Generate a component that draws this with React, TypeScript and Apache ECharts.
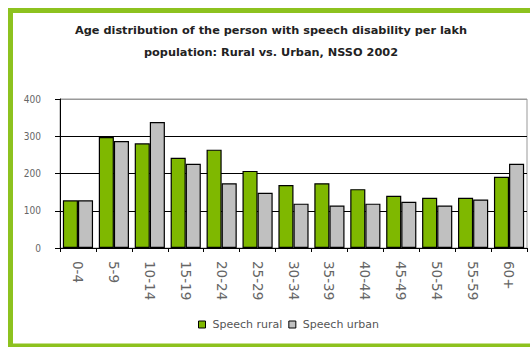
import React, { useEffect, useRef } from "react";
import * as echarts from "echarts";

// Age groups and prevalence per lakh population (NSSO 2002)
const ageGroups = ["0-4", "5-9", "10-14", "15-19", "20-24", "25-29", "30-34", "35-39", "40-44", "45-49", "50-54", "55-59", "60+"];
const speechRural = [128, 298, 281, 242, 264, 207, 169, 174, 158, 140, 135, 135, 191];
const speechUrban = [128, 287, 338, 226, 174, 148, 119, 114, 119, 124, 114, 130, 226];
const yTicks = [0, 100, 200, 300, 400];

const titleLines = [
  "Age distribution of the person with speech disability per lakh",
  "population: Rural vs. Urban, NSSO 2002",
];

const GREEN = "#7fb800";
const FRAME = "#8dc21f";
const GREY = "#c0c0c0";

export default function App() {
  const ref = useRef<HTMLDivElement>(null);

  useEffect(() => {
    if (!ref.current) return;
    const chart = echarts.init(ref.current, undefined, { renderer: "svg" });
    chart.setOption({
      animation: false,
      backgroundColor: "#ffffff",
      title: {
        text: titleLines.join("\n"),
        left: 271,
        top: 19,
        textAlign: "center",
        padding: 0,
        textStyle: {
          fontFamily: "'DejaVu Sans', sans-serif",
          fontSize: 11.3,
          fontWeight: "bold",
          color: "#222",
          lineHeight: 22,
        },
      },
      graphic: [
        {
          type: "rect",
          silent: true,
          shape: { x: 10.5, y: 10.5, width: 540, height: 335.5 },
          style: { fill: "none", stroke: FRAME, lineWidth: 5 },
        },
      ],
      legend: {
        left: 198,
        top: 319,
        padding: 0,
        icon: "rect",
        itemWidth: 7,
        itemHeight: 7,
        itemGap: 6,
        itemStyle: { borderColor: "#000", borderWidth: 1 },
        textStyle: {
          fontFamily: "'DejaVu Sans', sans-serif",
          fontSize: 11,
          color: "#555",
          padding: [0, 0, 0, 2],
        },
        data: ["Speech rural", "Speech urban"],
      },
      grid: {
        left: 60,
        right: 3,
        top: 99,
        bottom: 99,
        show: true,
        borderColor: "#999",
        borderWidth: 1,
        containLabel: false,
      },
      xAxis: {
        type: "category",
        data: ageGroups,
        axisLine: { show: true, lineStyle: { color: "#000", width: 1 } },
        axisTick: { show: true, length: 4, lineStyle: { color: "#000" } },
        axisLabel: {
          rotate: -90,
          margin: 13,
          fontFamily: "'DejaVu Sans', sans-serif",
          fontSize: 13.5,
          color: "#666",
          interval: 0,
        },
      },
      yAxis: {
        type: "value",
        min: yTicks[0],
        max: yTicks[yTicks.length - 1],
        interval: 100,
        axisLine: { show: true, lineStyle: { color: "#000", width: 1 } },
        axisTick: { show: true, length: 5, lineStyle: { color: "#000" } },
        axisLabel: {
          margin: 19,
          fontFamily: "'Liberation Sans Narrow', 'DejaVu Sans Condensed', Arial, sans-serif",
          fontSize: 10,
          color: "#666",
        },
        splitLine: {
          show: true,
          lineStyle: { color: ["#000", "#000", "#000", "#000", "#999"], width: 1 },
        },
      },
      series: [
        {
          name: "Speech rural",
          type: "bar",
          data: speechRural,
          barGap: "0%",
          barCategoryGap: "16%",
          itemStyle: { color: GREEN, borderColor: "#000", borderWidth: 1.2 },
        },
        {
          name: "Speech urban",
          type: "bar",
          data: speechUrban,
          barGap: "0%",
          barCategoryGap: "16%",
          itemStyle: { color: GREY, borderColor: "#000", borderWidth: 1.2 },
        },
      ],
    });
    return () => chart.dispose();
  }, []);

  return (
    <div
      ref={ref}
      style={{ position: "absolute", left: 0, top: 0, width: 530, height: 347, background: "#fff" }}
    />
  );
}
